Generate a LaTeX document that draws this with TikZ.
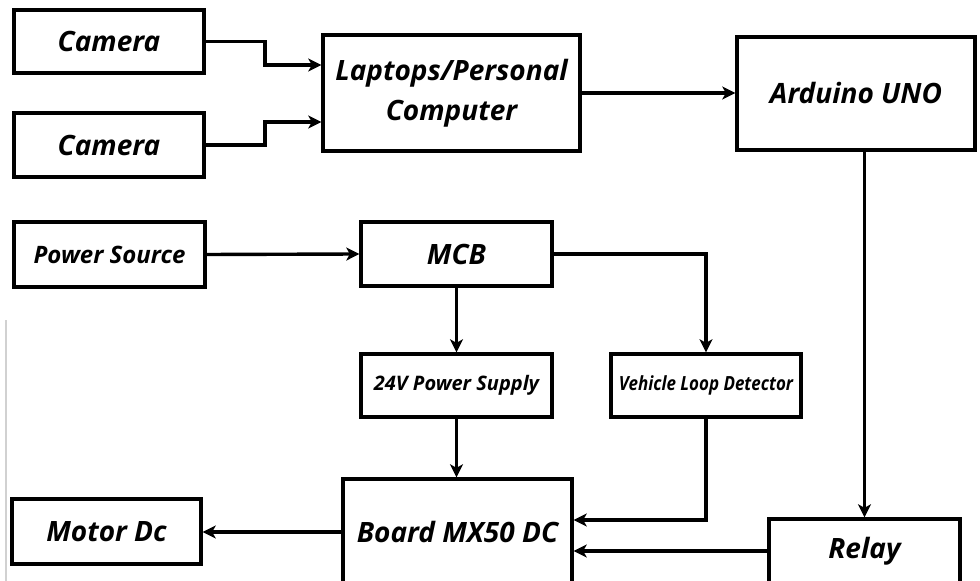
\documentclass[tikz,border=0pt]{standalone}
\usepackage{fontspec}
\newfontfamily\lblfont{Open Sans}
\usetikzlibrary{arrows.meta,calc}
\begin{document}
\begin{tikzpicture}[x=1pt,y=1pt,
  blk/.style={draw=black,line width=3.4pt,rectangle,inner sep=0pt,
    font=\lblfont\bfseries\itshape,align=center},
  arr/.style={line width=3.4pt,-{Stealth[length=13pt,width=13pt,inset=3.5pt]}},
  big/.style={font=\lblfont\bfseries\itshape\fontsize{28}{40}\selectfont},
]
\useasboundingbox (0,0) rectangle (980,581);
\begin{scope}
\clip (0,0) rectangle (980,581);
\fill[white] (0,0) rectangle (980,581);
\draw[line width=1.8pt,black!18] (6,0) -- (6,261);

\node[blk,big,minimum width=190pt,minimum height=63pt] (cam1) at (109,539.5) {Camera};
\node[blk,big,minimum width=190pt,minimum height=64pt] (cam2) at (109,436) {Camera};
\node[blk,big,minimum width=257pt,minimum height=116pt] (lap) at (451.5,488) {Laptops/Personal\\Computer};
\node[blk,big,minimum width=238pt,minimum height=113pt] (ard) at (856,487.5) {Arduino UNO};
\node[blk,font=\lblfont\bfseries\itshape\fontsize{24}{26}\selectfont,minimum width=191pt,minimum height=65pt] (pwr) at (109.5,326.5) {Power Source};
\node[blk,big,minimum width=191pt,minimum height=64pt] (mcb) at (456.5,327) {MCB};
\node[blk,font=\lblfont\bfseries\itshape\fontsize{20}{22}\selectfont,minimum width=191pt,minimum height=63pt] (sup) at (456.5,195.5) {24V Power Supply};
\node[blk,font=\lblfont\bfseries\itshape\fontsize{19.5}{20}\selectfont,minimum width=190pt,minimum height=63pt] (vld) at (706,195.5) {\scalebox{0.87}[1]{Vehicle Loop Detector}};
\node[blk,big,minimum width=229pt,minimum height=106pt] (board) at (457.5,49) {Board MX50 DC};
\node[blk,big,minimum width=189pt,minimum height=65pt] (motor) at (106.5,49.5) {Motor Dc};
\node[blk,big,minimum width=191pt,minimum height=64pt] (relay) at (864.5,30) {Relay};

\coordinate (j1) at (265,516);
\coordinate (j2) at (265,459);
\coordinate (j3) at (706,61);

\draw[arr] (cam1.east) -| (j1) -- (j1 -| lap.west);
\draw[arr] (cam2.east) -| (j2) -- (j2 -| lap.west);
\draw[arr] (lap.east) -- (lap.east -| ard.west);
\draw[arr] (ard.south -| relay.north) -- (relay.north);
\draw[arr] (pwr.east) -- (mcb.west);
\draw[arr] (mcb.south) -- (sup.north);
\draw[arr] (mcb.east) -| (vld.north);
\draw[arr] (sup.south) -- (sup.south |- board.north);
\draw[arr] (vld.south) -- (j3) -- (j3 -| board.east);
\draw[arr] (board.west) -- (board.west -| motor.east);
\draw[arr] (relay.west) -- (relay.west -| board.east);
\end{scope}
\end{tikzpicture}
\end{document}
